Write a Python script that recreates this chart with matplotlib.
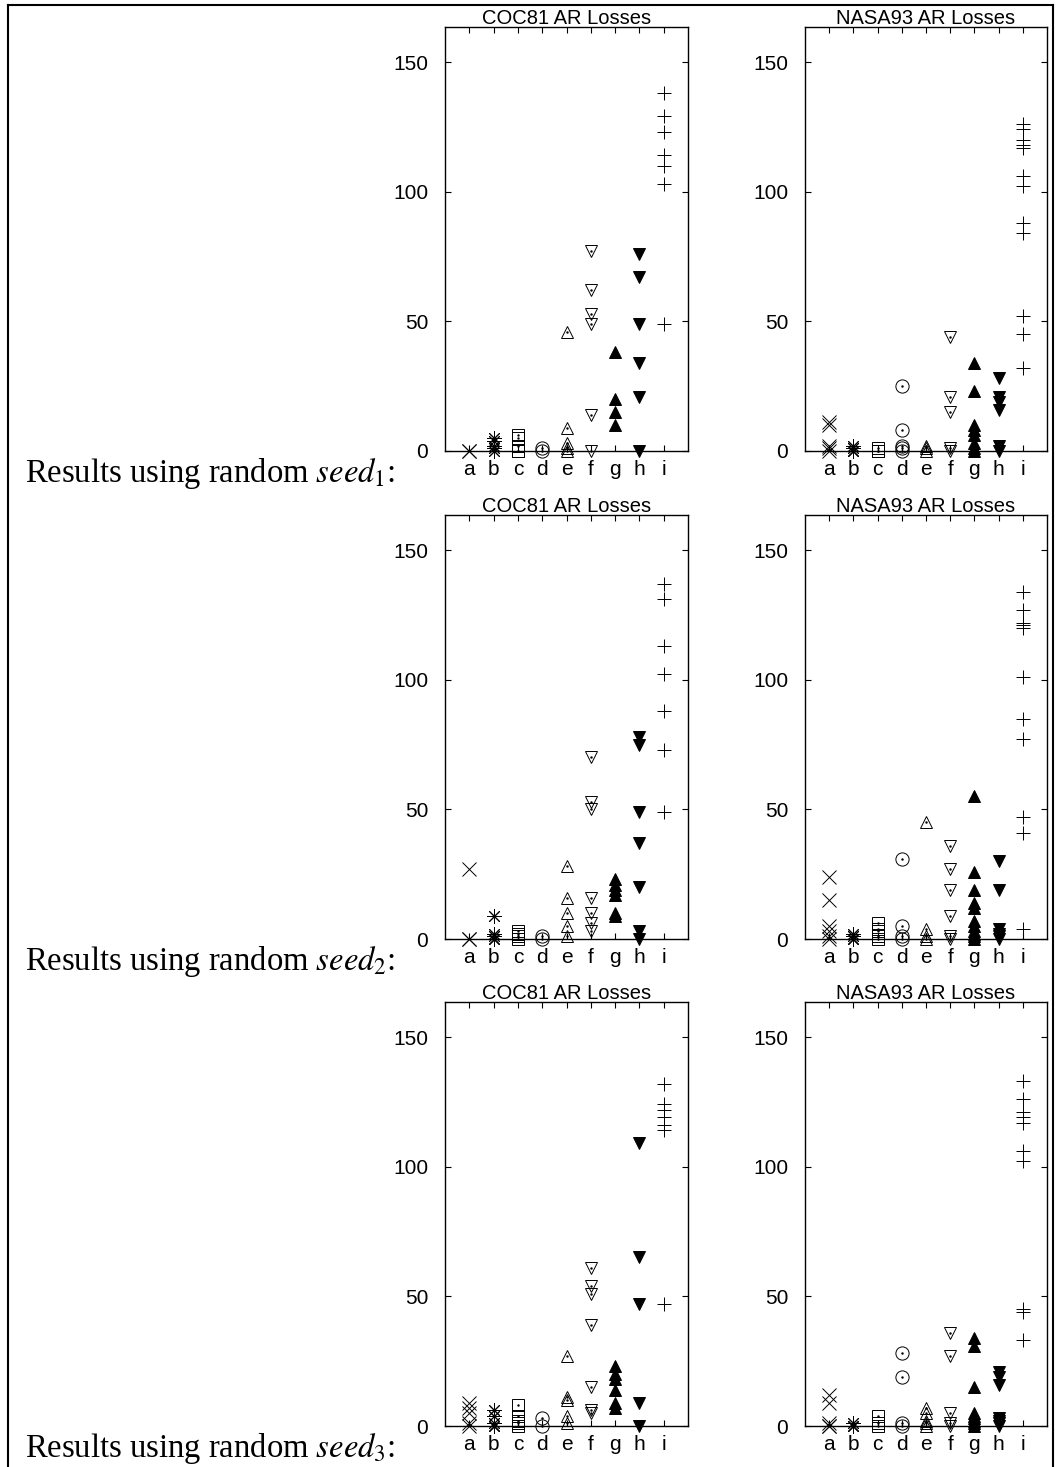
import matplotlib
matplotlib.use('Agg')
import matplotlib.pyplot as plt
from matplotlib.lines import Line2D

plt.rcParams['font.family'] = ['Liberation Sans', 'DejaVu Sans']
plt.rcParams['mathtext.fontset'] = 'stix'

# categories along x, one marker style per category
cats = ['a', 'b', 'c', 'd', 'e', 'f', 'g', 'h', 'i']

# values, one list per category (a..i)
coc81_seed1 = [[0, 0], [0, 1, 2, 4, 5], [0, 0, 2, 5, 6], [0, 1], [0, 1, 3, 9, 46],
               [0, 14, 49, 53, 62, 77], [10, 15, 20, 38], [0, 21, 34, 49, 67, 76],
               [49, 103, 110, 114, 123, 129, 138]]
nasa93_seed1 = [[0, 1, 2, 10, 11], [0, 0, 1, 2], [0, 0, 1], [0, 1, 2, 8, 25], [0, 1, 2],
                [0, 1, 15, 21, 44], [0, 1, 3, 6, 8, 10, 23, 34], [0, 2, 16, 19, 21, 28],
                [32, 45, 52, 84, 88, 102, 106, 117, 118, 120, 124, 126]]
coc81_seed2 = [[0, 0, 27], [0, 0, 1, 2, 9], [0, 1, 2, 3], [0, 1], [1, 5, 10, 16, 28],
               [3, 6, 10, 16, 50, 53, 70], [9, 10, 17, 19, 21, 23], [0, 3, 20, 37, 49, 75, 78],
               [49, 73, 88, 102, 113, 131, 137]]
nasa93_seed2 = [[0, 1, 3, 5, 15, 24], [0, 0, 1, 2], [0, 1, 3, 4, 6], [0, 1, 5, 31], [0, 1, 4, 45],
                [0, 1, 9, 19, 27, 36], [0, 1, 2, 3, 5, 7, 12, 14, 19, 26, 55], [0, 1, 2, 4, 19, 30],
                [4, 41, 47, 77, 85, 101, 120, 121, 122, 127, 134]]
coc81_seed3 = [[0, 1, 5, 7, 9], [0, 0, 1, 4, 6], [0, 1, 2, 4, 8], [0, 3], [1, 4, 10, 11, 27],
               [5, 6, 15, 39, 51, 54, 61], [7, 9, 14, 18, 20, 23], [0, 9, 47, 65, 109],
               [47, 114, 116, 119, 122, 124, 132]]
nasa93_seed3 = [[0, 0, 1, 9, 12], [0, 0, 1], [0, 1, 4], [0, 1, 19, 28], [0, 1, 2, 5, 7],
                [0, 1, 5, 27, 36], [0, 1, 2, 3, 4, 5, 15, 31, 34], [0, 1, 2, 3, 16, 19, 21],
                [33, 44, 45, 102, 106, 117, 119, 121, 126, 133]]

rows = [(coc81_seed1, nasa93_seed1), (coc81_seed2, nasa93_seed2), (coc81_seed3, nasa93_seed3)]
titles = ['COC81 AR Losses', 'NASA93 AR Losses']
yticks = [0, 50, 100, 150]

# marker, size, filled
styles = [('x', 9.5, False), ((8, 2, 0), 10.5, False), ('s', 9, False), ('o', 9.5, False),
          ('^', 9, False), ('v', 9, False), ('^', 8.5, True), ('v', 8.5, True), ('+', 10, False)]

W, H = 1057, 1467
fig = plt.figure(figsize=(W / 100, H / 100), dpi=100)

col_x = [(445, 688), (805, 1047)]
row_y = [(27, 451), (515, 939), (1002, 1426)]

for r, pair in enumerate(rows):
    y0, y1 = row_y[r]
    for c, data in enumerate(pair):
        x0, x1 = col_x[c]
        ax = fig.add_axes([x0 / W, 1 - y1 / H, (x1 - x0) / W, (y1 - y0) / H])
        for k, vals in enumerate(data):
            m, ms, filled = styles[k]
            xs = [k + 1] * len(vals)
            ax.plot(xs, vals, linestyle='none', marker=m, markersize=ms,
                    markerfacecolor='black' if filled else 'none',
                    markeredgecolor='black', markeredgewidth=0.7, clip_on=False)
            if not filled and k in (2, 3, 4, 5):
                ax.plot(xs, vals, linestyle='none', marker='.', markersize=1.5,
                        color='black', clip_on=False)
        ax.set_xlim(0, 10)
        ax.set_ylim(0, 163.5)
        ax.set_xticks(range(1, 10))
        ax.set_xticklabels(cats)
        ax.set_yticks(yticks)
        ax.tick_params(direction='in', length=4.5, width=0.8, top=True, right=True,
                       labelsize=15)
        ax.tick_params(axis='x', pad=6.5)
        ax.tick_params(axis='y', pad=12)
        for s in ax.spines.values():
            s.set_linewidth(1.0)
        ax.set_title(titles[c], fontsize=14.5, pad=2)

    fig.text(25 / W, 1 - (y1 + 31) / H, r'Results using random $seed_{%d}$:' % (r + 1),
             family='Liberation Serif', fontsize=23.5, va='baseline')

# outer frame of the page
for (xa, ya), (xb, yb) in [((8, 5), (1053, 5)), ((8, 5), (8, H + 5)), ((1053, 5), (1053, H + 5))]:
    fig.add_artist(Line2D([xa / W, xb / W], [1 - ya / H, 1 - yb / H], color='black',
                          linewidth=1.5, transform=fig.transFigure))

fig.savefig('out.png', dpi=100)
